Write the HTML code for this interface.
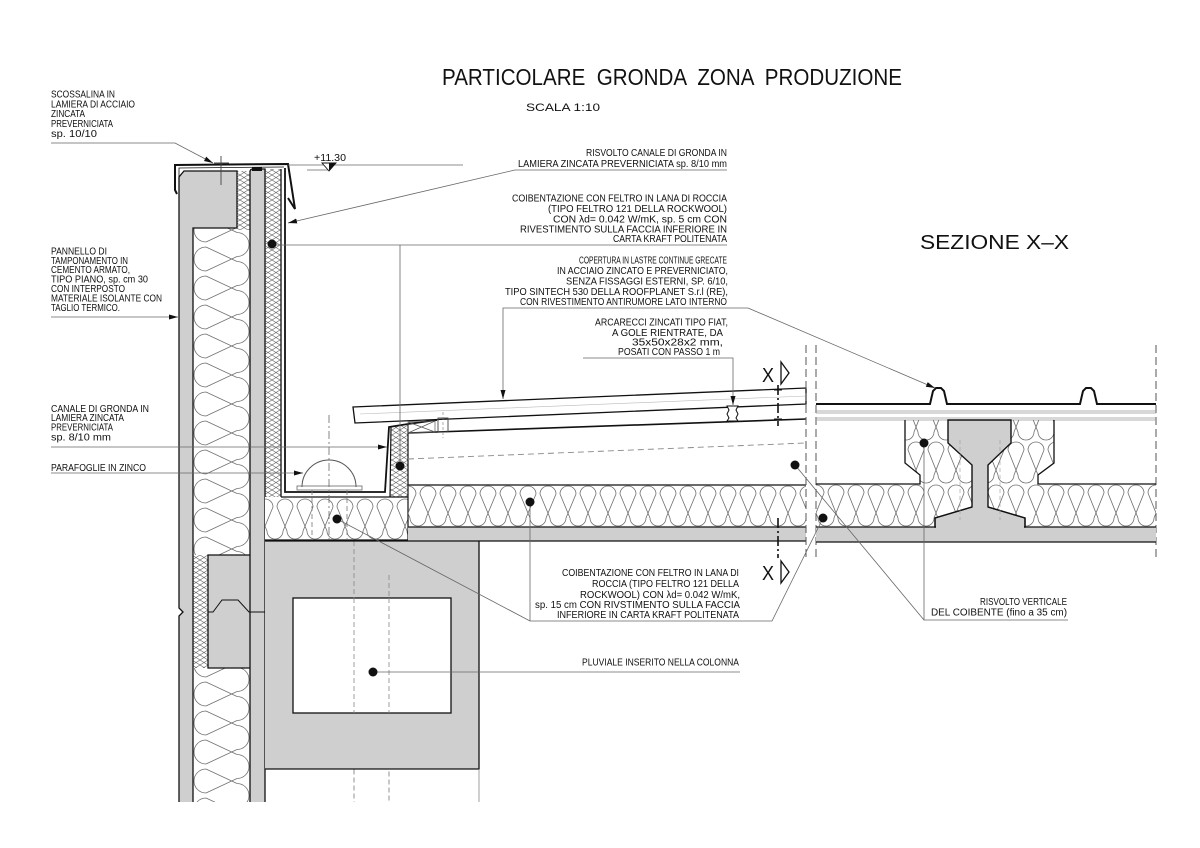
<!DOCTYPE html>
<html><head><meta charset="utf-8">
<style>
html,body{margin:0;padding:0;background:#fff;}
svg{display:block;}
text{font-family:"Liberation Sans",Arial,sans-serif;fill:#111;}
.s{font-size:10px;}
</style></head><body>
<svg width="1200" height="848" viewBox="0 0 1200 848" xmlns="http://www.w3.org/2000/svg">
<defs>
 <pattern id="wA" patternUnits="userSpaceOnUse" x="408" y="485" width="20" height="42">
  <path d="M-8,9 A8,8 0 0 1 8,9 M12,9 A8,8 0 0 1 28,9 M2,33 A8,8 0 0 0 18,33 M-8,9 L2,33 M8,9 L-2,33 M12,9 L22,33 M28,9 L18,33" fill="none" stroke="#6f6f6f" stroke-width="0.8"/>
 </pattern>
 <pattern id="wB" patternUnits="userSpaceOnUse" x="265" y="498" width="20" height="42">
  <path d="M-8,9 A8,8 0 0 1 8,9 M12,9 A8,8 0 0 1 28,9 M2,33 A8,8 0 0 0 18,33 M-8,9 L2,33 M8,9 L-2,33 M12,9 L22,33 M28,9 L18,33" fill="none" stroke="#6f6f6f" stroke-width="0.8"/>
 </pattern>
 <pattern id="wC" patternUnits="userSpaceOnUse" x="816" y="484" width="20" height="43">
  <path d="M-8,9 A8,8 0 0 1 8,9 M12,9 A8,8 0 0 1 28,9 M2,34 A8,8 0 0 0 18,34 M-8,9 L2,34 M8,9 L-2,34 M12,9 L22,34 M28,9 L18,34" fill="none" stroke="#6f6f6f" stroke-width="0.8"/>
 </pattern>
 <pattern id="wW" patternUnits="userSpaceOnUse" x="193" y="230" width="57" height="29">
  <path d="M13,-12 A12,12 0 0 0 13,12 M13,17 A12,12 0 0 0 13,41 M44,2.5 A12,12 0 0 1 44,26.5 M13,-12 L44,2.5 M13,12 L44,-2.5 M13,17 L44,31.5 M13,41 L44,26.5" fill="none" stroke="#6f6f6f" stroke-width="0.8"/>
 </pattern>
 <pattern id="hx" patternUnits="userSpaceOnUse" x="0" y="0" width="8" height="5">
  <path d="M0,0 L8,5 M0,5 L8,0" fill="none" stroke="#666" stroke-width="0.6"/>
 </pattern>
 <marker id="ar" markerUnits="userSpaceOnUse" markerWidth="9" markerHeight="6" refX="9" refY="3" orient="auto">
  <path d="M0,0.5 L9,3 L0,5.5 z" fill="#111"/>
 </marker>
</defs>

<!-- TITLES -->
<text x="442" y="85" font-size="23" textLength="460" lengthAdjust="spacingAndGlyphs" style="white-space:pre">PARTICOLARE  GRONDA  ZONA  PRODUZIONE</text>
<text x="526" y="111" font-size="11" textLength="74" lengthAdjust="spacingAndGlyphs">SCALA 1:10</text>
<text x="920" y="249" font-size="20" textLength="149" lengthAdjust="spacingAndGlyphs">SEZIONE X–X</text>

<!-- ========== LEFT WALL ========== -->
<path d="M179,177 L184,171 L237,171 L237,228 L193,228 L193,802 L179,802 L179,616 L183,612 L179,608 Z" fill="#cfcfcf"/>
<path d="M250,172 Q250,169 253,169 L265,169 L265,802 L250,802 Z" fill="#cfcfcf"/>
<rect x="208" y="555" width="42" height="113" fill="#cfcfcf"/>
<rect x="193" y="228" width="57" height="327" fill="url(#wW)"/>
<rect x="193" y="668" width="57" height="134" fill="url(#wW)"/>
<rect x="237" y="171" width="13" height="59" fill="url(#hx)"/>
<rect x="265" y="169" width="16" height="328" fill="url(#hx)"/>
<rect x="193" y="555" width="15" height="113" fill="url(#hx)"/>
<g fill="none" stroke="#111" stroke-width="1.3">
 <path d="M179,802 L179,616 L183,612 L179,608 L179,177 L184,171 L237,171 L237,228 L193,228 L193,802"/>
 <path d="M250,802 L250,172 Q250,169 253,169 L265,169 L265,802"/>
 <path d="M250,555 L208,555 L208,668 L250,668"/>
 <path d="M208,612 L213,612 L222,600 L238,600 L249,612 L265,612" stroke-width="1"/>
 <path d="M281,169 L281,497"/>
</g>
<rect x="252" y="167" width="10" height="4" fill="#111"/>
<path d="M177,194 L175,190 L175,165 L288,164 L295,209 L288,198" fill="none" stroke="#111" stroke-width="2"/>
<path d="M179,188 L179,168 L284,167" fill="none" stroke="#111" stroke-width="0.8"/>
<path d="M221,156 L221,185 M214,163 L229,163" stroke="#444" stroke-width="0.9"/>

<!-- ========== GUTTER ========== -->
<path d="M391,427 L408,424 L408,497 L390,497 Z" fill="url(#hx)"/>
<rect x="265" y="497" width="143" height="43" fill="#fff"/>
<rect x="265" y="498" width="143" height="42" fill="url(#wB)"/>
<path d="M285,168 L285,492 L385,492 L389,427 L408,424 L437,420" fill="none" stroke="#111" stroke-width="1.8"/>
<path d="M281,497 L408,497 L408,424 M391,427 L390,497 M265,540 L408,540 M408,497 L408,540" fill="none" stroke="#111" stroke-width="1.2"/>
<path d="M302,487 A27,27 0 0 1 356,487" fill="none" stroke="#555" stroke-width="1"/>
<rect x="297" y="486" width="65" height="4" fill="none" stroke="#666" stroke-width="0.8"/>
<path d="M329,415 L329,540" stroke="#666" stroke-width="0.8" stroke-dasharray="8,3,2,3"/>
<path d="M312,490 L312,540 M347,490 L347,540 M317,542 Q352,575 354,597 L354,802 M363,542 Q389,560 389,575 L389,802" fill="none" stroke="#777" stroke-width="0.8" stroke-dasharray="5,3"/>

<!-- ========== MAIN INSULATION / SLAB ========== -->
<rect x="408" y="485" width="398" height="42" fill="url(#wA)"/>
<rect x="408" y="527" width="398" height="14" fill="#cfcfcf"/>
<rect x="265" y="541" width="214" height="228" fill="#cfcfcf"/>
<rect x="293" y="598" width="158" height="115" fill="#fff" stroke="#111" stroke-width="1.3"/>
<path d="M354,598 L354,713 M389,598 L389,713 M354,541 L354,598 M389,575 L389,598" stroke="#888" stroke-width="0.8" stroke-dasharray="5,3" fill="none"/>
<g fill="none" stroke="#111" stroke-width="1.3">
 <path d="M408,485 L806,485"/>
 <path d="M408,527 L806,527"/>
 <path d="M265,541 L806,541"/>
 <path d="M479,541 L479,769 L265,769"/>
</g>
<path d="M479,769 L479,802" stroke="#888" stroke-width="0.8"/>

<!-- ========== ROOF (left) ========== -->
<path d="M353,407 L806,388 L806,404 L355,423 Z" fill="#fff" stroke="#111" stroke-width="1.3"/>
<path d="M360,414 L806,396" stroke="#bbb" stroke-width="0.6"/>
<path d="M408,433 L806,419" stroke="#111" stroke-width="1.6"/>
<path d="M408,422 L435,421 L435,432 L408,433 Z M408,422 L435,432 M408,433 L435,421" fill="none" stroke="#555" stroke-width="0.7"/>
<rect x="438" y="418" width="10" height="14" fill="none" stroke="#444" stroke-width="0.9"/>
<path d="M443,412 L443,438" stroke="#777" stroke-width="0.6" stroke-dasharray="3,2"/>
<path d="M727,406 L738,406 L736,410 L738,414 L736,418 L738,421 L727,421 L729,418 L727,414 L729,410 Z" fill="#fff" stroke="#111" stroke-width="1"/>
<path d="M408,459 L806,443" stroke="#888" stroke-width="0.9" stroke-dasharray="6,4"/>

<!-- section cut marks -->
<path d="M778,385 L778,426 M778,518 L778,558" stroke="#111" stroke-width="1.6" stroke-dasharray="10,3,2,3"/>
<path d="M774,390 L782,390 M774,419 L782,419 M774,527 L782,527" stroke="#111" stroke-width="1"/>
<text x="762" y="382" font-size="20" textLength="12" lengthAdjust="spacingAndGlyphs">X</text>
<path d="M781,362 L789,373 L781,384 Z" fill="none" stroke="#111" stroke-width="1.3"/>
<text x="762" y="580" font-size="20" textLength="12" lengthAdjust="spacingAndGlyphs">X</text>
<path d="M781,561 L789,572 L781,583 Z" fill="none" stroke="#111" stroke-width="1.3"/>

<path d="M806,345 L806,560 M816,345 L816,560 M1156,345 L1156,560" stroke="#555" stroke-width="1" stroke-dasharray="8,4"/>

<!-- ========== RIGHT SECTION ========== -->
<path d="M816,404 L930,404 L933,391 L936,388 L941,388 L944,391 L947,404 L1080,404 L1083,391 L1086,388 L1091,388 L1094,391 L1097,404 L1156,404" fill="none" stroke="#111" stroke-width="2"/>
<path d="M816,411 L1156,411 M816,413 L1156,413 M816,418 L1156,418 M816,420 L1156,420" stroke="#999" stroke-width="0.7"/>
<path d="M816,484 L920,484 L920,475 L905,463 L905,420 L1054,420 L1054,463 L1038,475 L1038,484 L1156,484 L1156,527 L816,527 Z" fill="url(#wC)"/>
<rect x="816" y="527" width="340" height="15" fill="#cfcfcf"/>
<path d="M948,420 L1011,420 L1011,443 L988,465 L988,507 L1025,518 L1025,527 L935,527 L935,518 L972,507 L972,465 L948,443 Z" fill="#cfcfcf" stroke="#111" stroke-width="1.4"/>
<rect x="936" y="521" width="88" height="12" fill="#cfcfcf"/>
<g fill="none" stroke="#111" stroke-width="1.3">
 <path d="M816,484 L920,484 L920,475 L905,463 L905,420"/>
 <path d="M1054,420 L1054,463 L1038,475 L1038,484 L1156,484"/>
 <path d="M816,527 L935,527 L935,518 L972,507 M988,507 L1025,518 L1025,527 L1156,527"/>
 <path d="M816,542 L1156,542"/>
</g>
<path d="M960,440 L960,520 M1000,440 L1000,520" stroke="#999" stroke-width="0.6" stroke-dasharray="4,3"/>

<!-- ========== LEADERS ========== -->
<g fill="none" stroke="#666" stroke-width="0.8">
 <path d="M51,143 L175,143 L213,163" marker-end="url(#ar)"/>
 <path d="M51,317 L178,317" marker-end="url(#ar)"/>
 <path d="M51,447 L387,447" marker-end="url(#ar)"/>
 <path d="M51,473 L303,473" marker-end="url(#ar)"/>
 <path d="M727,170 L515,170 L288,223" marker-end="url(#ar)"/>
 <path d="M727,245 L272,245"/>
 <path d="M400,245 L400,466"/>
 <path d="M748,308 L503,308 L503,399" marker-end="url(#ar)"/>
 <path d="M748,308 L935,388" marker-end="url(#ar)"/>
 <path d="M583,358 L733,358 L733,405" marker-end="url(#ar)"/>
 <path d="M337,519 L530,621 L772,621 L823,518"/>
 <path d="M530,503 L530,621"/>
 <path d="M373,672 L740,672"/>
 <path d="M924,443 L924,620 L1068,620"/>
 <path d="M795,465 L924,620"/>
 <path d="M288,165 L463,165"/>
 <path d="M307,170 L329,170"/>
</g>
<path d="M322,163 L336,163 L329,171 Z" fill="#fff" stroke="#111" stroke-width="0.9"/>
<path d="M329,163 L336,163 L329,171 Z" fill="#111"/>
<text x="314" y="161" font-size="10" textLength="32" lengthAdjust="spacingAndGlyphs">+11.30</text>

<g fill="#111">
 <circle cx="272" cy="244" r="4.5"/>
 <circle cx="400" cy="466" r="4.5"/>
 <circle cx="337" cy="519" r="4.5"/>
 <circle cx="530" cy="502" r="4.5"/>
 <circle cx="795" cy="465" r="4.5"/>
 <circle cx="823" cy="518" r="4.5"/>
 <circle cx="924" cy="443" r="4.5"/>
 <circle cx="373" cy="672" r="4.5"/>
</g>

<!-- ========== LABELS ========== -->
<g class="s">
 <text x="51" y="97.5" textLength="64" lengthAdjust="spacingAndGlyphs">SCOSSALINA IN</text>
 <text x="51" y="107.5" textLength="84" lengthAdjust="spacingAndGlyphs">LAMIERA DI ACCIAIO</text>
 <text x="51" y="117" textLength="34" lengthAdjust="spacingAndGlyphs">ZINCATA</text>
 <text x="51" y="127" textLength="62" lengthAdjust="spacingAndGlyphs">PREVERNICIATA</text>
 <text x="51" y="137" textLength="46" lengthAdjust="spacingAndGlyphs">sp. 10/10</text>

 <text x="51" y="254.5" textLength="56" lengthAdjust="spacingAndGlyphs">PANNELLO DI</text>
 <text x="51" y="264" textLength="77" lengthAdjust="spacingAndGlyphs">TAMPONAMENTO IN</text>
 <text x="51" y="273" textLength="79" lengthAdjust="spacingAndGlyphs">CEMENTO ARMATO,</text>
 <text x="51" y="282.5" textLength="97" lengthAdjust="spacingAndGlyphs">TIPO PIANO, sp. cm 30</text>
 <text x="51" y="292" textLength="74" lengthAdjust="spacingAndGlyphs">CON INTERPOSTO</text>
 <text x="51" y="301.5" textLength="111" lengthAdjust="spacingAndGlyphs">MATERIALE ISOLANTE CON</text>
 <text x="51" y="311" textLength="69" lengthAdjust="spacingAndGlyphs">TAGLIO TERMICO.</text>

 <text x="51" y="412" textLength="98" lengthAdjust="spacingAndGlyphs">CANALE DI GRONDA IN</text>
 <text x="51" y="421" textLength="73" lengthAdjust="spacingAndGlyphs">LAMIERA ZINCATA</text>
 <text x="51" y="430.5" textLength="62" lengthAdjust="spacingAndGlyphs">PREVERNICIATA</text>
 <text x="51" y="440.5" textLength="60" lengthAdjust="spacingAndGlyphs">sp. 8/10 mm</text>
 <text x="51" y="471" textLength="95" lengthAdjust="spacingAndGlyphs">PARAFOGLIE IN ZINCO</text>

 <text x="586" y="156" textLength="141" lengthAdjust="spacingAndGlyphs">RISVOLTO CANALE DI GRONDA IN</text>
 <text x="518" y="167" textLength="209" lengthAdjust="spacingAndGlyphs">LAMIERA ZINCATA PREVERNICIATA sp. 8/10 mm</text>

 <text x="512" y="201.5" textLength="215" lengthAdjust="spacingAndGlyphs">COIBENTAZIONE CON FELTRO IN LANA DI ROCCIA</text>
 <text x="548" y="212" textLength="179" lengthAdjust="spacingAndGlyphs">(TIPO FELTRO 121 DELLA ROCKWOOL)</text>
 <text x="553" y="222.5" textLength="174" lengthAdjust="spacingAndGlyphs">CON λd= 0.042 W/mK, sp. 5 cm CON</text>
 <text x="520" y="232.5" textLength="207" lengthAdjust="spacingAndGlyphs">RIVESTIMENTO SULLA FACCIA INFERIORE IN</text>
 <text x="613" y="242" textLength="114" lengthAdjust="spacingAndGlyphs">CARTA KRAFT POLITENATA</text>

 <text x="579" y="263.5" textLength="148" lengthAdjust="spacingAndGlyphs">COPERTURA IN LASTRE CONTINUE GRECATE</text>
 <text x="557" y="274" textLength="171" lengthAdjust="spacingAndGlyphs">IN ACCIAIO ZINCATO E PREVERNICIATO,</text>
 <text x="566" y="284.5" textLength="162" lengthAdjust="spacingAndGlyphs">SENZA FISSAGGI ESTERNI, SP. 6/10,</text>
 <text x="505" y="295" textLength="223" lengthAdjust="spacingAndGlyphs">TIPO SINTECH 530 DELLA ROOFPLANET S.r.l (RE),</text>
 <text x="520" y="305" textLength="207" lengthAdjust="spacingAndGlyphs">CON RIVESTIMENTO ANTIRUMORE LATO INTERNO</text>

 <text x="595" y="325.5" textLength="133" lengthAdjust="spacingAndGlyphs">ARCARECCI ZINCATI TIPO FIAT,</text>
 <text x="612" y="336" textLength="111" lengthAdjust="spacingAndGlyphs">A GOLE RIENTRATE, DA</text>
 <text x="632" y="345.5" textLength="91" lengthAdjust="spacingAndGlyphs">35x50x28x2 mm,</text>
 <text x="618" y="355" textLength="102" lengthAdjust="spacingAndGlyphs">POSATI CON PASSO 1 m</text>

 <text x="562" y="576" textLength="177" lengthAdjust="spacingAndGlyphs">COIBENTAZIONE CON FELTRO IN LANA DI</text>
 <text x="592" y="587" textLength="147" lengthAdjust="spacingAndGlyphs">ROCCIA (TIPO FELTRO 121 DELLA</text>
 <text x="580" y="598" textLength="160" lengthAdjust="spacingAndGlyphs">ROCKWOOL) CON λd= 0.042 W/mK,</text>
 <text x="535" y="608" textLength="205" lengthAdjust="spacingAndGlyphs">sp. 15 cm CON RIVSTIMENTO SULLA FACCIA</text>
 <text x="557" y="618" textLength="182" lengthAdjust="spacingAndGlyphs">INFERIORE IN CARTA KRAFT POLITENATA</text>

 <text x="582" y="665.5" textLength="157" lengthAdjust="spacingAndGlyphs">PLUVIALE INSERITO NELLA COLONNA</text>

 <text x="980" y="605" textLength="87" lengthAdjust="spacingAndGlyphs">RISVOLTO VERTICALE</text>
 <text x="931" y="615.5" textLength="136" lengthAdjust="spacingAndGlyphs">DEL COIBENTE (fino a 35 cm)</text>
</g>
</svg>
</body></html>
